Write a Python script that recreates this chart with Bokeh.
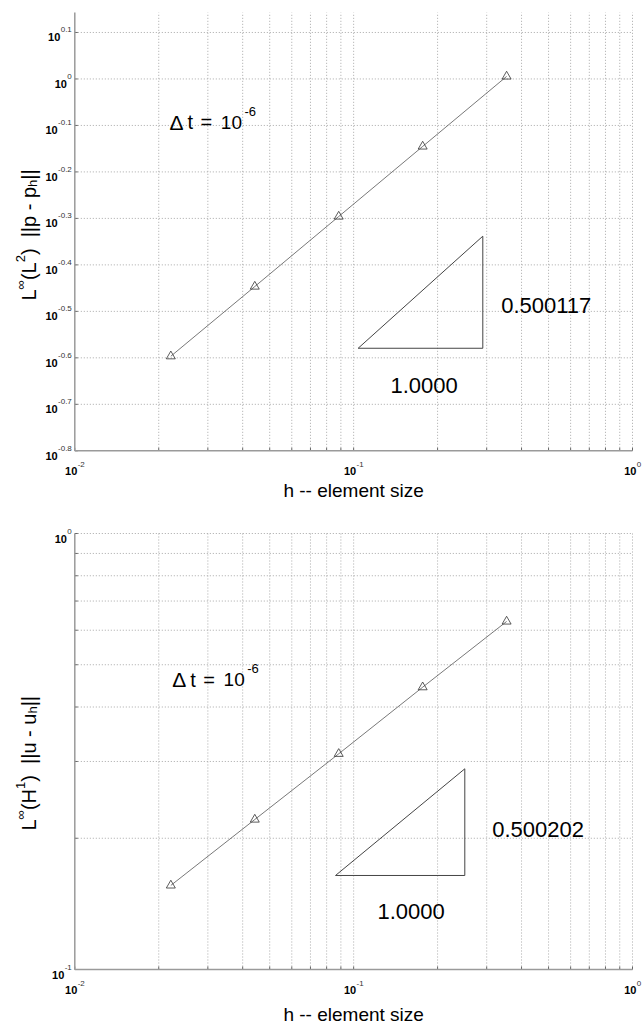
import math
from bokeh.plotting import figure
from bokeh.models import Range1d, Label
from bokeh.layouts import column
from bokeh.embed import file_html
from bokeh.resources import INLINE

# ---------------- data ----------------
h = [0.0221, 0.0442, 0.0884, 0.1768, 0.3536]
err_p = [0.2532, 0.3576, 0.5059, 0.7158, 1.0125]
err_u = [0.1559, 0.2208, 0.3124, 0.4441, 0.6284]

slope_p_x = [0.1038, 0.2905, 0.2905, 0.1038]
slope_p_y = [0.2634, 0.2634, 0.4589, 0.2634]
slope_u_x = [0.0861, 0.2504, 0.2504, 0.0861]
slope_u_y = [0.1643, 0.1643, 0.2886, 0.1643]

rate_p = "0.500117"
rate_u = "0.500202"
run_text = "1.0000"
dt_exp = "-6"

x_tick_exps = ["-2", "-1", "0"]
x_minor = [0.02, 0.03, 0.04, 0.05, 0.06, 0.07, 0.08, 0.09,
           0.2, 0.3, 0.4, 0.5, 0.6, 0.7, 0.8, 0.9]
y_tick_exps_p = ["0.1", "0", "-0.1", "-0.2", "-0.3", "-0.4", "-0.5", "-0.6", "-0.7", "-0.8"]
y_minor_p = []
y_tick_exps_u = ["0", "-1"]
y_minor_u = [0.2, 0.3, 0.4, 0.5, 0.6, 0.7, 0.8, 0.9]

xlabel = "h -- element size"
NB = "\u00a0"
ylabel_p = [("L", 0), ("\u221e", 1), ("(L", 0), ("2", 1), (")" + NB + NB + "||p" + NB + "-" + NB + "p", 0),
            ("h", -1), ("||", 0)]
ylabel_u = [("L", 0), ("\u221e", 1), ("(H", 0), ("1", 1), (")" + NB + NB + "||u" + NB + "-" + NB + "u", 0),
            ("h", -1), ("||", 0)]

# ---------------- layout (pixels) ----------------
W = 643
AX_L, AX_R = 74.3, 632.0          # pixel columns of h = 1e-2 and h = 1
DX = (AX_R - AX_L) / 2.0          # pixels per decade along x
FONT = "Liberation Sans"
GRID = "#a8a8a8"
AXC = "#9a9a9a"
EXPC = "#333333"

AW = {'0': .556, '1': .556, '2': .556, '3': .556, '4': .556, '5': .556, '6': .556,
      '7': .556, '8': .556, '9': .556, '-': .333, '.': .278, ' ': .278, NB: .278, '|': .26,
      'p': .556, 'u': .556, 'h': .556, 'L': .556, 'H': .722, '(': .333, ')': .333,
      '\u221e': .713, '\u0394': .667, 't': .278, '=': .584}


def tw(s, size):
    return sum(AW.get(c, .556) for c in s) * size


def lab(p, text, x, y, size, xu="screen", yu="screen", xo=0, yo=0, align="left",
        bold=False, color="black", angle=0.0):
    p.add_layout(Label(x=x, y=y, x_units=xu, y_units=yu, x_offset=xo, y_offset=yo,
                       text=text, text_font=FONT, text_font_size=f"{size}px",
                       text_align=align, text_baseline="alphabetic",
                       text_font_style="bold" if bold else "normal",
                       text_color=color, angle=angle, angle_units="rad"))


def make_panel(H, top_px, bot_px, ylo_exp, dy, y_exps, y_minor, series, tri_x, tri_y,
               ylabel, ylab_start, xlab_base, dt_pos, rate_text, rate_pos, run_pos):
    # canvas == frame; axes drawn from glyphs in data space
    x0 = 10 ** (-2 - AX_L / DX)
    x1 = 10 ** (-2 + (W - AX_L) / DX)
    y0 = 10 ** (ylo_exp - (H - bot_px) / dy)
    y1 = 10 ** (ylo_exp + bot_px / dy)
    ymin = 10 ** ylo_exp
    ymax = 10 ** (ylo_exp + (bot_px - top_px) / dy)
    xmin, xmax = 0.01, 1.0

    p = figure(width=W, height=H, x_axis_type="log", y_axis_type="log",
               x_range=Range1d(x0, x1), y_range=Range1d(y0, y1),
               x_axis_location=None, y_axis_location=None,
               output_backend="svg", toolbar_location=None,
               min_border=0, min_border_left=0, min_border_right=0,
               min_border_top=0, min_border_bottom=0)
    p.outline_line_color = None
    p.grid.visible = False
    p.background_fill_color = "white"
    p.border_fill_color = "white"

    sy = lambda y: H - y  # canvas-top pixel -> frame screen units

    # grid lines
    xg = [10 ** float(e) for e in x_tick_exps] + x_minor
    xg = [v for v in xg if v > xmin]
    p.segment(x0=xg, y0=[ymin] * len(xg), x1=xg, y1=[ymax] * len(xg),
              line_color=GRID, line_dash="1 2", line_width=1)
    yg = [10 ** float(e) for e in y_exps] + y_minor
    yg = [v for v in yg if v > ymin * 1.0001]
    p.segment(x0=[xmin] * len(yg), y0=yg, x1=[xmax] * len(yg), y1=yg,
              line_color=GRID, line_dash="1 2", line_width=1)

    # inward tick marks (3 px)
    xt = [10 ** float(e) for e in x_tick_exps] + x_minor
    tick_y = ymin * 10 ** (3.0 / dy)
    p.segment(x0=xt, y0=[ymin] * len(xt), x1=xt, y1=[tick_y] * len(xt),
              line_color="#666666", line_width=1)
    yt = [10 ** float(e) for e in y_exps] + y_minor
    tick_x = xmin * 10 ** (3.0 / DX)
    p.segment(x0=[xmin] * len(yt), y0=yt, x1=[tick_x] * len(yt), y1=yt,
              line_color="#666666", line_width=1)

    # axis lines
    p.segment(x0=[xmin, xmin], y0=[ymin, ymin], x1=[xmin, xmax], y1=[ymax, ymin],
              line_color=AXC, line_width=1.5)

    # data
    p.line(h, series, line_color="#555555", line_width=0.8)
    p.scatter(h, series, marker="triangle", size=9, fill_color=None,
              line_color="#333333", line_width=0.8)
    p.line(tri_x, tri_y, line_color="#444444", line_width=1)

    # x tick labels
    for e in x_tick_exps:
        w10 = tw("10", 11)
        we = tw(e, 8)
        left = -(w10 + we) / 2
        lab(p, "10", 10 ** float(e), sy(bot_px + 20.5), 11, xu="data", xo=left + w10,
            align="right", bold=True)
        lab(p, e, 10 ** float(e), sy(bot_px + 13.5), 8, xu="data", xo=left + w10 + 0.3,
            color=EXPC)
    # y tick labels
    for e in y_exps:
        we = tw(e, 8)
        lab(p, e, AX_L - 3, 10 ** float(e), 8, yu="data", yo=2.5, align="right", color=EXPC)
        lab(p, "10", AX_L - 3 - we - 0.4, 10 ** float(e), 11, yu="data", yo=-5,
            align="right", bold=True)

    # axis titles
    lab(p, xlabel, (AX_L + AX_R) / 2, sy(xlab_base), 19, align="center")
    cum = 0.0
    for text, kind in ylabel:
        size = 20 if kind == 0 else 13
        xo = {0: 0, 1: -8, -1: 4}[kind]
        lab(p, text, 28 + xo, sy(ylab_start) + cum, size, angle=math.pi / 2)
        cum += tw(text, size)

    # delta t annotation
    dx_, dy_ = dt_pos
    lab(p, "\u0394", dx_, sy(dy_), 21)
    lab(p, "t", dx_ + 18, sy(dy_), 20)
    lab(p, "=", dx_ + 31, sy(dy_), 20)
    lab(p, "10", dx_ + 72.5, sy(dy_), 19, align="right")
    lab(p, dt_exp, dx_ + 75, sy(dy_ - 11), 13)

    # slope triangle labels
    lab(p, rate_text, rate_pos[0], sy(rate_pos[1]), 22)
    lab(p, run_text, run_pos[0], sy(run_pos[1]), 22)
    return p


H1 = 508
p1 = make_panel(H1, 12.0, 450.3, -0.8, 464.8, y_tick_exps_p, y_minor_p, err_p,
                slope_p_x, slope_p_y, ylabel_p, 300, 490, (169, 121.7),
                rate_p, (500.7, 305), (390, 385))
p2 = make_panel(1026 - H1, 533.0 - H1, 969.0 - H1, -1.0, 436.0, y_tick_exps_u, y_minor_u,
                err_u, slope_u_x, slope_u_y, ylabel_u, 830 - H1, 1014 - H1,
                (171.7, 679 - H1), rate_u, (491.7, 829 - H1), (377, 910.7 - H1))

layout = column(p1, p2)
open("out.html", "w").write(file_html(layout, INLINE))
